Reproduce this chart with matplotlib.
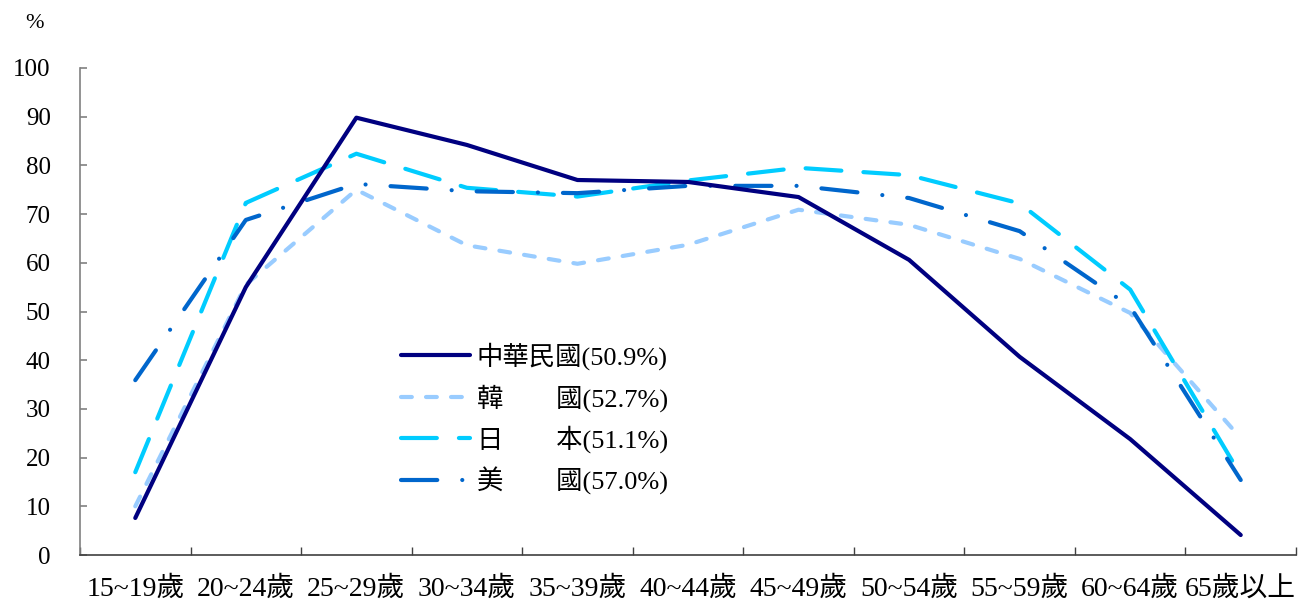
import matplotlib
matplotlib.use("Agg")
import matplotlib.pyplot as plt

plt.rcParams['font.family'] = ['Liberation Serif', 'Noto Sans CJK TC', 'DejaVu Sans']

categories = ['15~19歲', '20~24歲', '25~29歲', '30~34歲', '35~39歲', '40~44歲',
              '45~49歲', '50~54歲', '55~59歲', '60~64歲', '65歲以上']
roc = [7.6, 55.0, 89.8, 84.2, 77.0, 76.6, 73.5, 60.6, 40.7, 23.8, 4.1]
korea = [10.0, 55.5, 75.0, 63.6, 59.8, 63.7, 70.9, 67.8, 60.8, 49.7, 24.0]
japan = [17.0, 72.3, 82.4, 75.4, 73.6, 76.9, 79.5, 78.0, 72.2, 54.5, 16.4]
usa = [35.9, 68.8, 76.2, 74.7, 74.3, 75.8, 75.8, 73.3, 66.5, 51.0, 15.4]
labels = ['中華民國(50.9%)', '韓\u3000\u3000國(52.7%)', '日\u3000\u3000本(51.1%)', '美\u3000\u3000國(57.0%)']
yticks = [0, 10, 20, 30, 40, 50, 60, 70, 80, 90, 100]

W, H = 1301, 603
fig = plt.figure(figsize=(W / 100, H / 100), dpi=100)
ax = fig.add_axes([80 / W, (H - 555) / H, (1296 - 80) / W, (555 - 68) / H])

x = list(range(len(categories)))
lw = 3.0
ax.plot(x, roc, color='#000080', lw=lw, solid_capstyle='round', solid_joinstyle='round', label=labels[0], zorder=3)
ax.plot(x, korea, color='#99CCFF', lw=lw, linestyle=(0, (2.6, 3.4)), dash_capstyle='round', label=labels[1], zorder=2)
ax.plot(x, japan, color='#00CCFF', lw=lw, linestyle=(0, (8.6, 5.3)), dash_capstyle='round', label=labels[2], zorder=2)
ax.plot(x, usa, color='#0066CC', lw=lw, linestyle=(0, (8.7, 6.0, 0.01, 6.0)), dash_capstyle='round', label=labels[3], zorder=2)

ax.set_xlim(-0.5, len(categories) - 0.5)
ax.set_ylim(0, 100)
ax.set_yticks(yticks)
ax.set_yticklabels([str(v) for v in yticks])
ax.set_xticks(x)
ax.set_xticklabels(categories)
ax.set_xticks([i - 0.5 for i in range(len(categories) + 1)], minor=True)

for s in ['top', 'right']:
    ax.spines[s].set_visible(False)
ax.spines['left'].set_color('#808080')
ax.spines['bottom'].set_color('#404040')
ax.spines['left'].set_linewidth(1.2)
ax.spines['bottom'].set_linewidth(1.2)

ax.tick_params(axis='y', direction='in', length=5, width=1.2, color='#808080', pad=21, labelsize=18)
ax.tick_params(axis='x', which='major', length=0, pad=15, labelsize=20)
ax.tick_params(axis='x', which='minor', direction='in', length=6, width=1.0, color='#404040')

fig.text(34 / W, 1 - 23 / H, '%', ha='center', va='center', fontsize=16)

leg = ax.legend(loc='upper left', bbox_to_anchor=((383 - 80) / (1296 - 80), (555 - 324) / (555 - 68)),
                frameon=False, fontsize=19, handlelength=2.6, handletextpad=0.25, labelspacing=0.52,
                borderpad=0.2)

fig.savefig('out.png', dpi=100)
